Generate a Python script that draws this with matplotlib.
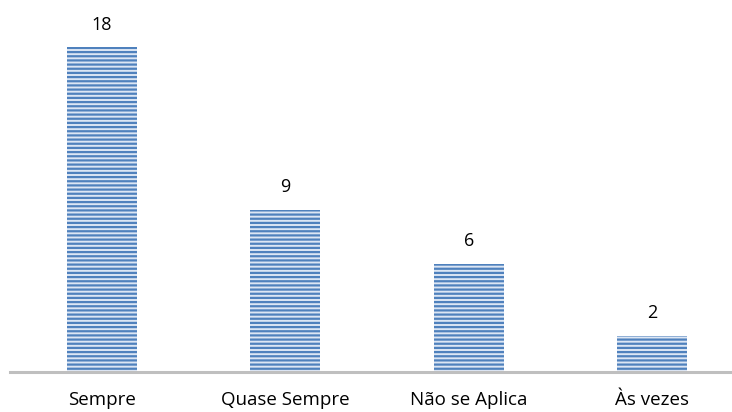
import matplotlib.pyplot as plt

categorias = ["Sempre", "Quase Sempre", "Não se Aplica", "Às vezes"]
valores = [18, 9, 6, 2]

plt.rcParams['font.family'] = ['Open Sans', 'DejaVu Sans']
plt.rcParams['hatch.linewidth'] = 1.6

fig = plt.figure(figsize=(7.32, 4.12), dpi=100)
# eixo um pouco maior que a figura, como no original
ax = fig.add_axes([10/732, 40/412, 734/732, 361/412])

x = range(len(categorias))
barras = ax.bar(x, valores, width=0.38, color='#DCE6F4', edgecolor='#4F81BD',
                linewidth=0, hatch='----')

for xi, v in zip(x, valores):
    ax.text(xi, v + 0.75, str(v), ha='center', va='bottom', fontsize=13, color='#000000')

ax.set_xlim(-0.5, 3.5)
ax.set_ylim(0, 20)
ax.set_xticks(list(x))
ax.set_xticklabels(categorias, fontsize=13.5)
ax.tick_params(axis='x', length=0, pad=14)
ax.set_yticks([])
for s in ['top', 'right', 'left']:
    ax.spines[s].set_visible(False)
ax.spines['bottom'].set_color('#BFBFBF')
ax.spines['bottom'].set_linewidth(2.2)

fig.savefig('out.png', dpi=100)
